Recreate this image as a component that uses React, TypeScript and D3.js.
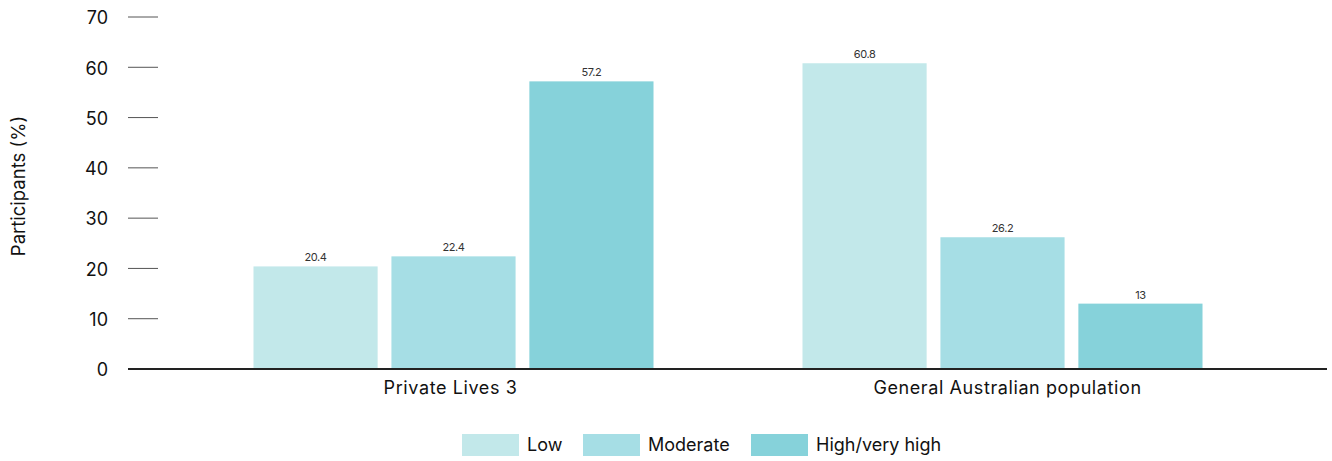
import React, { useRef, useEffect } from 'react';
import * as d3 from 'd3';

const groups = ['Private Lives 3', 'General Australian population'];
const seriesNames = ['Low', 'Moderate', 'High/very high'];
const lowValues = [20.4, 60.8];
const moderateValues = [22.4, 26.2];
const highValues = [57.2, 13];
const yTicks = [0, 10, 20, 30, 40, 50, 60, 70];
const colors = ['#c2e8ea', '#a6dee5', '#86d2da'];

const FONT = 'Inter, "Noto Sans", sans-serif';

const App: React.FC = () => {
  const ref = useRef<SVGSVGElement | null>(null);
  const width = 1332;
  const height = 461;

  useEffect(() => {
    const svg = d3.select(ref.current);
    svg.selectAll('*').remove();

    const values = [lowValues, moderateValues, highValues];

    const y = d3.scaleLinear().domain([0, 70]).range([369, 17]);
    const x0 = d3.scaleBand<string>().domain(groups).range([179, 1277]).paddingInner(0).paddingOuter(0);
    const x1 = d3.scaleBand<string>().domain(seriesNames).range([0, x0.bandwidth()]).paddingInner(0.1).paddingOuter(0.54);

    // y ticks
    const yAxis = svg.append('g');
    yTicks.forEach(t => {
      yAxis.append('line')
        .attr('x1', 128).attr('x2', 158)
        .attr('y1', y(t)).attr('y2', y(t))
        .attr('stroke', t === 0 ? 'none' : '#555')
        .attr('stroke-width', 1);
      yAxis.append('text')
        .attr('x', 108).attr('y', y(t) + 1)
        .attr('dy', '0.35em')
        .attr('text-anchor', 'end')
        .attr('font-family', FONT)
        .attr('font-size', '18px')
        .attr('fill', '#111')
        .text(t);
    });

    svg.append('text')
      .attr('transform', `translate(25,186) rotate(-90)`)
      .attr('text-anchor', 'middle')
      .attr('font-family', FONT)
      .attr('font-size', '18.5px')
      .attr('fill', '#111')
      .text('Participants (%)');

    // bars
    groups.forEach((g, gi) => {
      const gx = x0(g)!;
      seriesNames.forEach((s, si) => {
        const v = values[si][gi];
        const bx = gx + x1(s)!;
        svg.append('rect')
          .attr('x', bx).attr('y', y(v))
          .attr('width', x1.bandwidth())
          .attr('height', y(0) - y(v))
          .attr('fill', colors[si]);
        svg.append('text')
          .attr('x', bx + x1.bandwidth() / 2)
          .attr('y', y(v) - 5)
          .attr('text-anchor', 'middle')
          .attr('font-family', FONT)
          .attr('font-size', '11px')
          .attr('letter-spacing', '-0.4px')
          .attr('fill', '#333')
          .text(v);
      });
      svg.append('text')
        .attr('x', gx + x0.bandwidth() / 2 + (gi === 0 ? -3 : 5))
        .attr('y', 394)
        .attr('text-anchor', 'middle')
        .attr('font-family', FONT)
        .attr('font-size', '18px')
        .attr('letter-spacing', '0.6px')
        .attr('fill', '#111')
        .text(g);
    });

    // baseline
    svg.append('line')
      .attr('x1', 128).attr('x2', 1327)
      .attr('y1', y(0)).attr('y2', y(0))
      .attr('stroke', '#222')
      .attr('stroke-width', 2);

    // legend
    const legendX = [462, 583, 751];
    seriesNames.forEach((s, i) => {
      svg.append('rect')
        .attr('x', legendX[i]).attr('y', 434)
        .attr('width', 57).attr('height', 22)
        .attr('fill', colors[i]);
      svg.append('text')
        .attr('x', legendX[i] + 65).attr('y', 445)
        .attr('dy', '0.35em')
        .attr('font-family', FONT)
        .attr('font-size', '18px')
        .attr('fill', '#111')
        .text(s);
    });
  }, []);

  return <svg ref={ref} width={width} height={height} style={{ position: 'absolute', left: 0, top: 0 }} />;
};

export default App;
